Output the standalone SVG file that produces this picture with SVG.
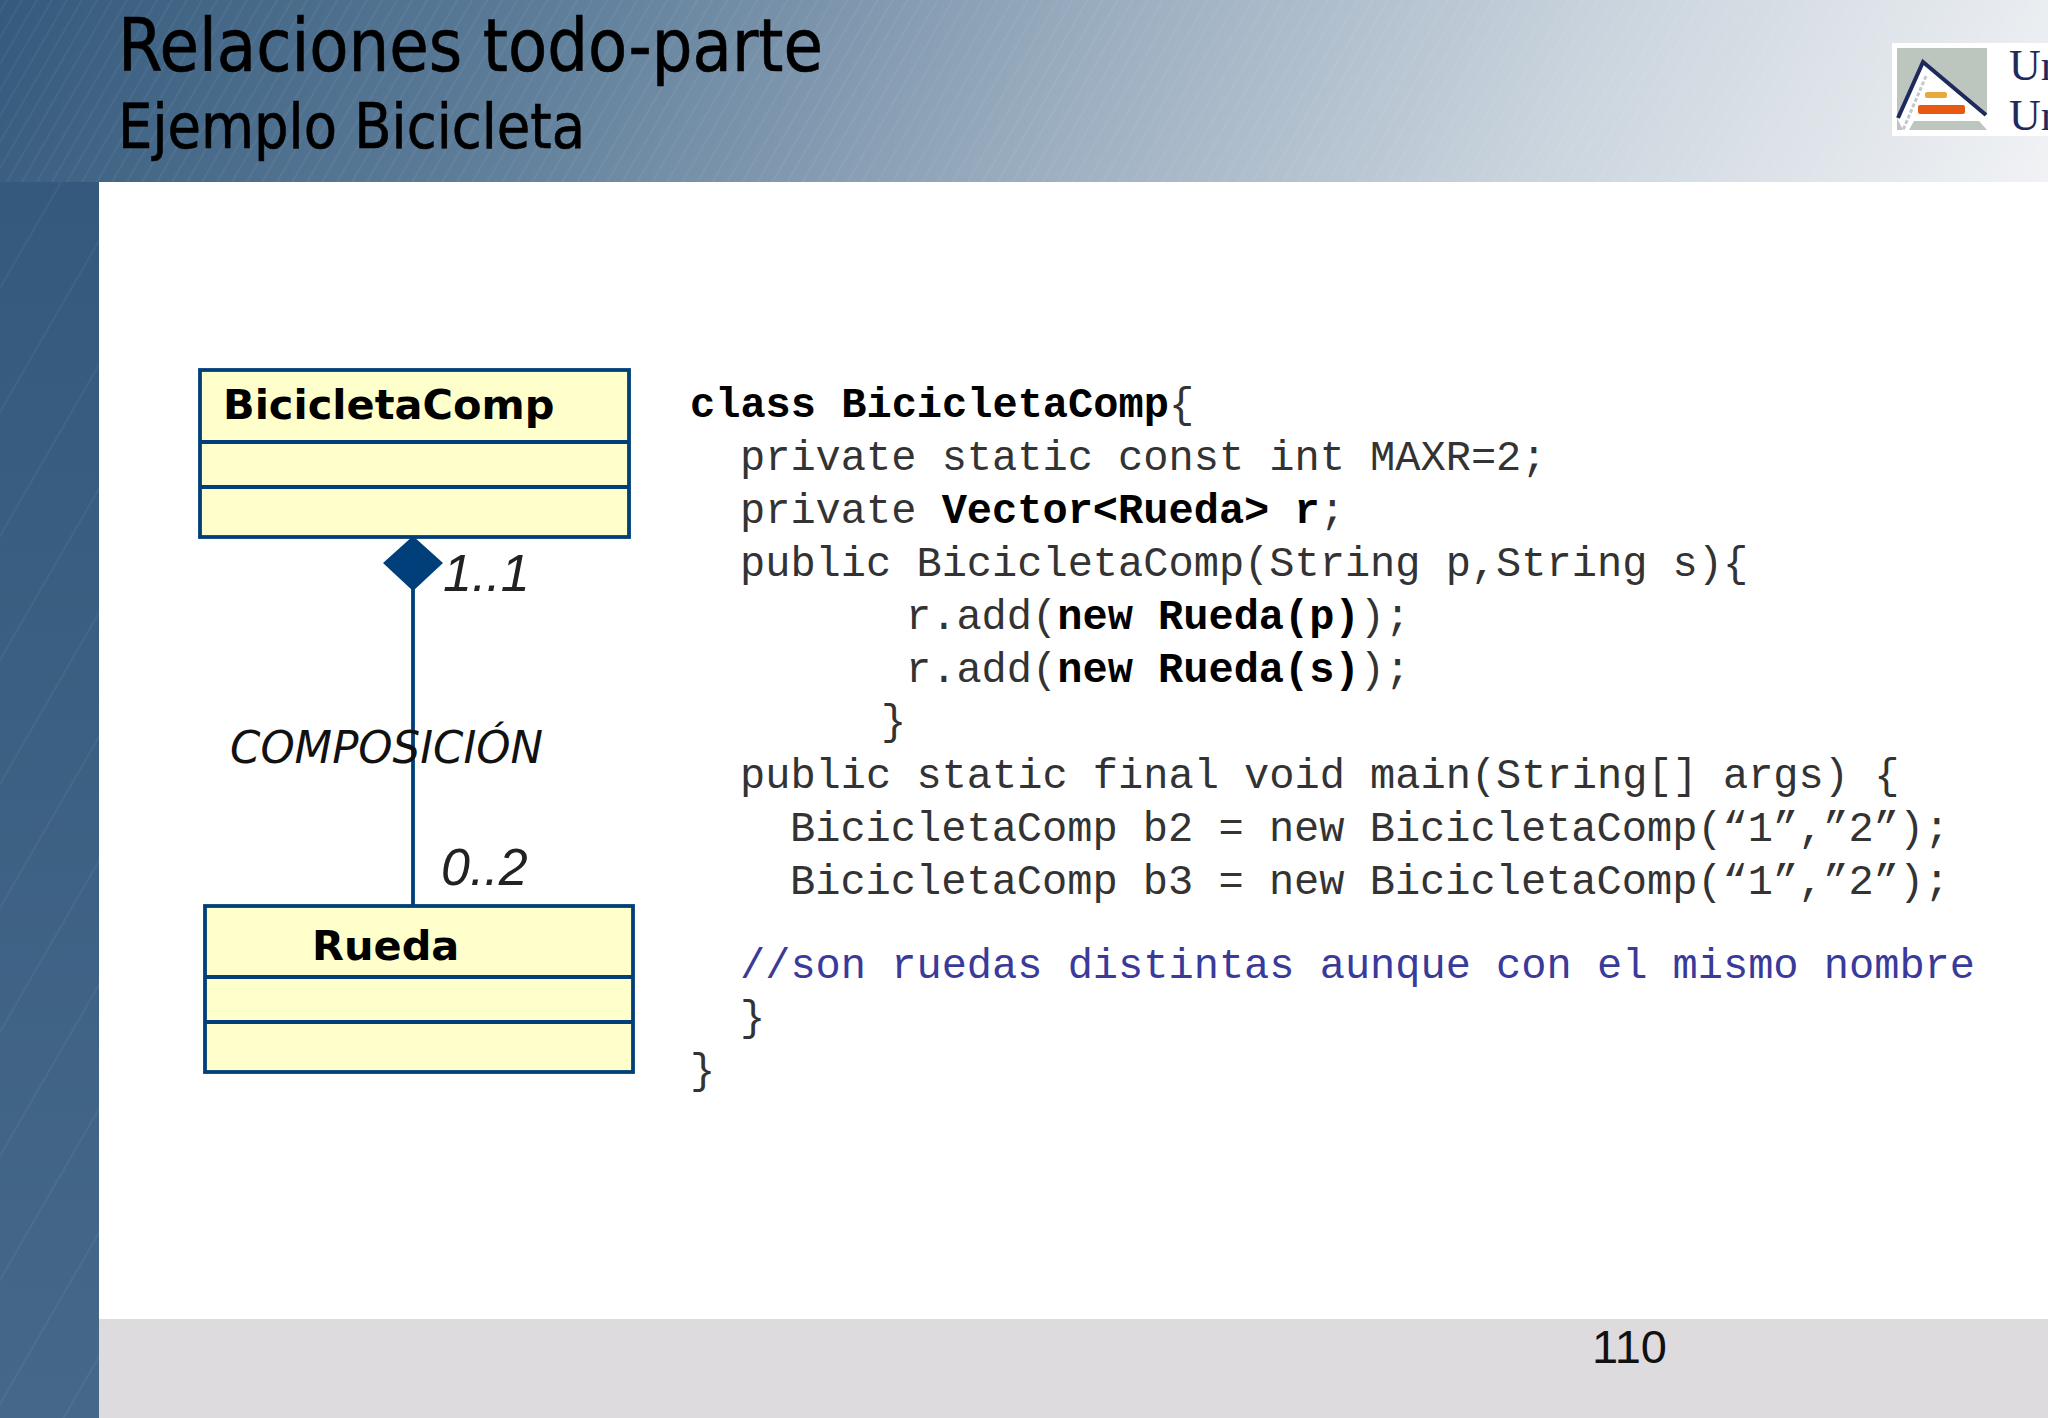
<svg xmlns="http://www.w3.org/2000/svg" width="2048" height="1418" viewBox="0 0 2048 1418">
<defs>
<linearGradient id="hdr" gradientUnits="userSpaceOnUse" x1="0" y1="0" x2="1700" y2="900"><stop offset="0" stop-color="#34597c"/><stop offset="0.25" stop-color="#5c7c98"/><stop offset="0.5" stop-color="#98abbe"/><stop offset="0.75" stop-color="#cbd5de"/><stop offset="1" stop-color="#f3f4f6"/></linearGradient>
<linearGradient id="side" x1="0" y1="0" x2="0" y2="1"><stop offset="0" stop-color="#34597c"/><stop offset="1" stop-color="#45688a"/></linearGradient>
<pattern id="fine" width="13" height="100" patternUnits="userSpaceOnUse" patternTransform="rotate(30)"><path d="M6 0V100" stroke="#fff" stroke-opacity="0.09" stroke-width="1"/></pattern>
<pattern id="sparse" width="62" height="100" patternUnits="userSpaceOnUse" patternTransform="rotate(30)"><path d="M20 0V100" stroke="#fff" stroke-opacity="0.09" stroke-width="1"/></pattern>
<style>
.cl{fill:#ffffcc;stroke:#003f7a;stroke-width:3.8}
.dv{stroke:#003f7a;stroke-width:3.8;fill:none}
.cn{font:bold 41.5px "DejaVu Sans",sans-serif;fill:#000}
.ml{font:italic 52px "Liberation Sans",sans-serif;fill:#222}
.c{font-family:"Liberation Mono",monospace;font-size:42px;fill:#333}
.b{font-weight:bold;fill:#000}
.t{font-family:"DejaVu Sans Condensed","DejaVu Sans",sans-serif;fill:#000;stroke:#000;stroke-width:0.6}
</style>
</defs>
<rect width="2048" height="1418" fill="#fff"/>
<rect width="2048" height="182" fill="url(#hdr)"/>
<rect width="2048" height="182" fill="url(#fine)"/>
<rect y="182" width="99" height="1236" fill="url(#side)"/>
<rect y="182" width="99" height="1236" fill="url(#sparse)"/>
<rect x="99" y="1319" width="1949" height="99" fill="#dddbde"/>
<text class="t" x="118" y="70.5" font-size="73" textLength="705" lengthAdjust="spacingAndGlyphs">Relaciones todo-parte</text>
<text class="t" x="118" y="148" font-size="62" textLength="467" lengthAdjust="spacingAndGlyphs">Ejemplo Bicicleta</text>
<g id="logo">
<rect x="1892" y="43" width="156" height="93" fill="#fff"/>
<rect x="1897" y="48" width="90" height="82" fill="#bcc5be"/>
<path d="M1897 118L1923 62L1987 115L1987 130H1903Z" fill="#fff"/>
<path d="M1898 118L1923 62L1986 115" fill="none" stroke="#1f2a5c" stroke-width="4"/>
<path d="M1926 76L1903 130" fill="none" stroke="#c4c8cc" stroke-width="3" stroke-dasharray="4 2"/>
<rect x="1925" y="92" width="22" height="6" rx="2" fill="#e8a93c"/>
<rect x="1918" y="105" width="47" height="9" rx="2" fill="#e85a14"/>
<path d="M1909 130L1914 121H1979L1987 130Z" fill="#bcc5be"/>
<text x="2009" y="80" font-family="Liberation Serif,serif" font-size="44" fill="#1f2a5c">Un</text>
<text x="2009" y="130" font-family="Liberation Serif,serif" font-size="44" fill="#1f2a5c">Un</text>
</g>
<g id="connectors"><path class="dv" d="M413 589V905"/></g>
<g id="BicicletaComp"><rect class="cl" x="200" y="370" width="429" height="167"/><path class="dv" d="M200 442H629M200 487H629"/><text class="cn" x="223" y="419">BicicletaComp</text></g>
<g id="Rueda"><rect class="cl" x="205" y="906" width="428" height="166"/><path class="dv" d="M205 977H633M205 1022H633"/><text class="cn" x="312" y="959.5">Rueda</text></g>
<path id="diamond" d="M413 536L443 563L413 591L383 563Z" fill="#003f7a"/>
<g id="labels">
<text class="ml" x="443" y="591">1..1</text>
<text class="ml" x="441" y="885">0..2</text>
<text x="230" y="763" font-family="DejaVu Sans Condensed,DejaVu Sans,sans-serif" font-style="italic" font-size="44" fill="#111" textLength="313" lengthAdjust="spacingAndGlyphs">COMPOSICIÓN</text>
</g>
<g id="code">
<text class="c" x="690" y="417"><tspan class="b">class BicicletaComp</tspan>{</text>
<text class="c" x="740" y="470">private static const int MAXR=2;</text>
<text class="c" x="740" y="523">private <tspan class="b">Vector&lt;Rueda&gt; r</tspan>;</text>
<text class="c" x="740" y="576">public BicicletaComp(String p,String s){</text>
<text class="c" x="906" y="629">r.add(<tspan class="b">new Rueda(p)</tspan>);</text>
<text class="c" x="906" y="682">r.add(<tspan class="b">new Rueda(s)</tspan>);</text>
<text class="c" x="881" y="734">}</text>
<text class="c" x="740" y="788">public static final void main(String[] args) {</text>
<text class="c" x="790" y="841">BicicletaComp b2 = new BicicletaComp(“1”,”2”);</text>
<text class="c" x="790" y="894">BicicletaComp b3 = new BicicletaComp(“1”,”2”);</text>
<text class="c" x="740" y="978" style="fill:#3a3a9a">//son ruedas distintas aunque con el mismo nombre</text>
<text class="c" x="740" y="1030">}</text>
<text class="c" x="690" y="1083">}</text>
</g>
<text x="1592" y="1363" font-family="Liberation Sans,sans-serif" font-size="47" fill="#111">110</text>
</svg>
